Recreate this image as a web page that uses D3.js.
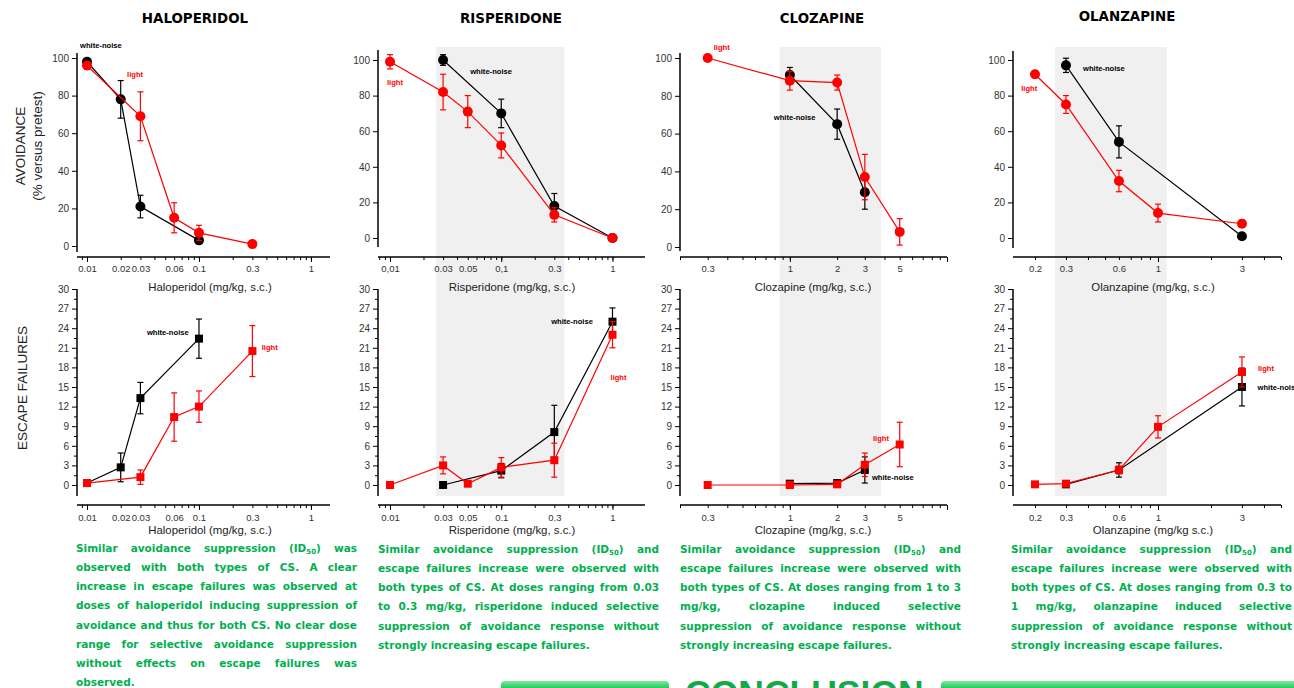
<!DOCTYPE html>
<html>
<head>
<meta charset="utf-8">
<script src="https://cdn.jsdelivr.net/npm/d3@7"></script>
<style>
  body { margin: 0; background: #fff; overflow: hidden; }
  #chart { position: relative; width: 1294px; height: 688px; overflow: hidden; }
  svg { position: absolute; left: 0; top: 0; }
  .note { position: absolute; width: 281px; font: bold 10.5px 'DejaVu Sans', Verdana, sans-serif; color: #00b050; line-height: 19.15px; }
  .note div { text-align: justify; text-align-last: justify; }
  .note div.last { text-align-last: left; }
  .note sub { font-size: 7px; vertical-align: -2px; line-height: 0; }
</style>
</head>
<body>
<div id="chart"></div>
<script>
// Antipsychotics: avoidance & escape failures, white-noise vs light CS

// Haloperidol
const halDose = [0.01, 0.02, 0.03, 0.06, 0.1, 0.3]
const halAvoidNoise = [98, 78, 21, null, 3, null]
const halAvoidNoiseErr = [1.5, 10, 6, null, 1.5, null]
const halAvoidLight = [96, null, 69, 15, 7, 1]
const halAvoidLightErr = [2, null, 13, 8, 4, 1]
const halEscNoise = [0.3, 2.7, 13.3, null, 22.4, null]
const halEscNoiseErr = [0, 2.2, 2.4, null, 3, null]
const halEscLight = [0.3, null, 1.2, 10.4, 12, 20.5]
const halEscLightErr = [0, null, 1.1, 3.7, 2.4, 3.9]
const halTicks = [0.01, 0.02, 0.03, 0.06, 0.1, 0.3, 1]
const halTickLabels = ['0.01', '0.02', '0.03', '0.06', '0.1', '0.3', '1']

// Risperidone
const risDose = [0.01, 0.03, 0.05, 0.1, 0.3, 1]
const risAvoidNoise = [null, 100, null, 70, 18, 0]
const risAvoidNoiseErr = [null, 3, null, 8, 7, 0]
const risAvoidLight = [99, 82, 71, 52, 13, 0]
const risAvoidLightErr = [4, 10, 9, 7, 4, 1]
const risEscNoise = [null, 0, null, 2.2, 8.1, 25]
const risEscNoiseErr = [null, 0, null, 1.1, 4.1, 2.1]
const risEscLight = [0, 3, 0.2, 2.7, 3.8, 23]
const risEscLightErr = [0, 1.3, 0, 1.5, 2.6, 2]
const risTicks = [0.01, 0.03, 0.05, 0.1, 0.3, 1]
const risTickLabelsTop = ['0,01', '0.03', '0.05', '0,1', '0.3', '1']
const risTickLabelsBot = ['0.01', '0.03', '0.05', '0.1', '0.3', '1']

// Clozapine
const cloDose = [0.3, 1, 2, 3, 5]
const cloAvoidNoise = [null, 91, 65, 29, null]
const cloAvoidNoiseErr = [null, 4, 8, 9, null]
const cloAvoidLight = [100, 88, 87, 37, 8]
const cloAvoidLightErr = [0, 5, 4, 12, 7]
const cloEscNoise = [null, 0.2, 0.3, 2.3, null]
const cloEscNoiseErr = [null, 0, 0, 2, null]
const cloEscLight = [0, 0, 0.1, 3.1, 6.2]
const cloEscLightErr = [0, 0, 0, 1.8, 3.4]
const cloTicks = [0.3, 1, 2, 3, 5]
const cloTickLabels = ['0.3', '1', '2', '3', '5']

// Olanzapine
const olaDose = [0.2, 0.3, 0.6, 1, 3]
const olaAvoidNoise = [null, 97, 54, null, 1]
const olaAvoidNoiseErr = [null, 4, 9, null, 0]
const olaAvoidLight = [92, 75, 32, 14, 8]
const olaAvoidLightErr = [2, 5, 6, 5, 2]
const olaEscNoise = [null, 0.1, 2.3, null, 15]
const olaEscNoiseErr = [null, 0, 1.1, null, 2.9]
const olaEscLight = [0.1, 0.2, 2.3, 8.9, 17.3]
const olaEscLightErr = [0, 0, 0.6, 1.7, 2.3]
const olaTicks = [0.2, 0.3, 0.6, 1, 3]
const olaTickLabels = ['0.2', '0.3', '0.6', '1', '3']

const avoidTicks = [0, 20, 40, 60, 80, 100]
const escTicks = [0, 3, 6, 9, 12, 15, 18, 21, 24, 27, 30]
const escMinor = [1.5, 4.5, 7.5, 10.5, 13.5, 16.5, 19.5, 22.5, 25.5, 28.5]

const RED = '#ff0000'
const BLACK = '#000000'

const panels = [
  {
    title: 'HALOPERIDOL', titleX: 195, titleY: 23,
    dose: halDose, x0: 77, x1: 330, domain: [0.00814, 1.48],
    topY: [246, 58], topAxis: [252, 53], shade: null,
    ticks: halTicks, labelsTop: halTickLabels, labelsBot: halTickLabels,
    xTitleTop: 'Haloperidol (mg/kg, s.c.)', xTitleBot: 'Haloperidol (mg/kg, s.c.)', xTitleX: 210,
    avoid: [[halAvoidNoise, halAvoidNoiseErr, BLACK], [halAvoidLight, halAvoidLightErr, RED]],
    esc: [[halEscNoise, halEscNoiseErr, BLACK], [halEscLight, halEscLightErr, RED]],
    notesTop: [['white-noise', BLACK, 0.00866, 106.9], ['light', RED, 0.0228, 91.5]],
    notesBot: [['white-noise', BLACK, 0.0343, 23.4], ['light', RED, 0.363, 21]]
  },
  {
    title: 'RISPERIDONE', titleX: 511, titleY: 23,
    dose: risDose, x0: 378, x1: 645, domain: [0.0078, 1.96],
    topY: [238, 60], topAxis: [247, 50], shade: [0.026, 0.37],
    ticks: risTicks, labelsTop: risTickLabelsTop, labelsBot: risTickLabelsBot,
    xTitleTop: 'Risperidone (mg/kg, s.c.)', xTitleBot: 'Risperidone (mg/kg, s.c.)', xTitleX: 512,
    avoid: [[risAvoidNoise, risAvoidNoiseErr, BLACK], [risAvoidLight, risAvoidLightErr, RED]],
    esc: [[risEscNoise, risEscNoiseErr, BLACK], [risEscLight, risEscLightErr, RED]],
    notesTop: [['white-noise', BLACK, 0.0526, 93.8], ['light', RED, 0.0094, 87.6]],
    notesBot: [['white-noise', BLACK, 0.281, 25], ['light', RED, 0.96, 16.5]]
  },
  {
    title: 'CLOZAPINE', titleX: 822, titleY: 23,
    dose: cloDose, x0: 680, x1: 947, domain: [0.2, 10],
    topY: [247, 58], topAxis: [251, 53], shade: [0.86, 3.8],
    ticks: cloTicks, labelsTop: cloTickLabels, labelsBot: cloTickLabels,
    xTitleTop: 'Clozapine (mg/kg, s.c.)', xTitleBot: 'Clozapine (mg/kg, s.c.)', xTitleX: 813,
    avoid: [[cloAvoidNoise, cloAvoidNoiseErr, BLACK], [cloAvoidLight, cloAvoidLightErr, RED]],
    esc: [[cloEscNoise, cloEscNoiseErr, BLACK], [cloEscLight, cloEscLightErr, RED]],
    notesTop: [['light', RED, 0.328, 105.8], ['white-noise', BLACK, 0.79, 68.8]],
    notesBot: [['light', RED, 3.38, 7.2], ['white-noise', BLACK, 3.33, 1.2]]
  },
  {
    title: 'OLANZAPINE', titleX: 1127, titleY: 21,
    dose: olaDose, x0: 1013, x1: 1281, domain: [0.15, 5],
    topY: [238, 60], topAxis: [248, 51], shade: [0.26, 1.12],
    ticks: olaTicks, labelsTop: olaTickLabels, labelsBot: olaTickLabels,
    xTitleTop: 'Olanzapine (mg/kg, s.c.)', xTitleBot: 'Olanzapine (mg/kg s.c.)', xTitleX: 1153,
    avoid: [[olaAvoidNoise, olaAvoidNoiseErr, BLACK], [olaAvoidLight, olaAvoidLightErr, RED]],
    esc: [[olaEscNoise, olaEscNoiseErr, BLACK], [olaEscLight, olaEscLightErr, RED]],
    notesTop: [['white-noise', BLACK, 0.375, 95.5], ['light', RED, 0.167, 84.3]],
    notesBot: [['light', RED, 3.7, 17.8], ['white-noise', BLACK, 3.68, 14.9]]
  }
]

const notes = [
  { x: 76, y: 539, lines: [
    'Similar avoidance suppression (ID<sub>50</sub>) was',
    'observed with both types of CS. A clear',
    'increase in escape failures was observed at',
    'doses of haloperidol inducing suppression of',
    'avoidance and thus for both CS. No clear dose',
    'range for selective avoidance suppression',
    'without effects on escape failures was',
    'observed.'] },
  { x: 378, y: 540, lines: [
    'Similar avoidance suppression (ID<sub>50</sub>) and',
    'escape failures increase were observed with',
    'both types of CS. At doses ranging from 0.03',
    'to 0.3 mg/kg, risperidone induced selective',
    'suppression of avoidance response without',
    'strongly increasing escape failures.'] },
  { x: 680, y: 540, lines: [
    'Similar avoidance suppression (ID<sub>50</sub>) and',
    'escape failures increase were observed with',
    'both types of CS. At doses ranging from 1 to 3',
    'mg/kg, clozapine induced selective',
    'suppression of avoidance response without',
    'strongly increasing escape failures.'] },
  { x: 1011, y: 540, lines: [
    'Similar avoidance suppression (ID<sub>50</sub>) and',
    'escape failures increase were observed with',
    'both types of CS. At doses ranging from 0.3 to',
    '1 mg/kg, olanzapine induced selective',
    'suppression of avoidance response without',
    'strongly increasing escape failures.'] }
]

const svg = d3.select('#chart')
  .append('svg')
  .attr('width', 1294)
  .attr('height', 688)

const defs = svg.append('defs')
const grad = defs.append('linearGradient')
  .attr('id', 'barGrad')
  .attr('x1', 0).attr('y1', 0).attr('x2', 0).attr('y2', 1)
grad.append('stop').attr('offset', '0%').attr('stop-color', '#7fe8a0')
grad.append('stop').attr('offset', '30%').attr('stop-color', '#2fcf62')
grad.append('stop').attr('offset', '100%').attr('stop-color', '#10a844')

const tickFont = 'Liberation Sans, Arial, sans-serif'

// log minor ticks within a domain
const logTicks = (dom) => {
  const out = []
  for (let e = Math.floor(Math.log10(dom[0])); e <= Math.ceil(Math.log10(dom[1])); e++) {
    for (let k = 1; k <= 9; k++) {
      const v = k * Math.pow(10, e)
      if (v >= dom[0] * 0.999 && v <= dom[1] * 1.001) out.push(v)
    }
  }
  return out
}

const styleAxis = (g, size) => {
  g.select('.domain').remove()
  g.selectAll('line').attr('stroke', '#000').attr('stroke-width', 1)
  g.selectAll('text')
    .attr('fill', '#333')
    .style('font-family', tickFont)
    .style('font-size', size + 'px')
}

const drawSeries = (g, p, xs, ys, series, shape) => {
  const [vals, errs, color] = series
  const pts = p.dose.map((d, i) => ({ d, v: vals[i], e: errs[i] })).filter((o) => o.v != null)
  const line = d3.line().x((o) => xs(o.d)).y((o) => ys(o.v))
  g.append('path')
    .datum(pts)
    .attr('d', line)
    .attr('fill', 'none')
    .attr('stroke', color)
    .attr('stroke-width', 1.2)
  const eb = g.append('g').attr('stroke', color).attr('stroke-width', 1.2)
  pts.filter((o) => o.e > 0).forEach((o) => {
    const x = xs(o.d)
    eb.append('line').attr('x1', x).attr('x2', x).attr('y1', ys(o.v - o.e)).attr('y2', ys(o.v + o.e))
    eb.append('line').attr('x1', x - 3).attr('x2', x + 3).attr('y1', ys(o.v - o.e)).attr('y2', ys(o.v - o.e))
    eb.append('line').attr('x1', x - 3).attr('x2', x + 3).attr('y1', ys(o.v + o.e)).attr('y2', ys(o.v + o.e))
  })
  if (shape === 'circle') {
    g.append('g').selectAll('circle')
      .data(pts)
      .enter().append('circle')
      .attr('cx', (o) => xs(o.d))
      .attr('cy', (o) => ys(o.v))
      .attr('r', 5)
      .attr('fill', color)
  } else {
    g.append('g').selectAll('rect')
      .data(pts)
      .enter().append('rect')
      .attr('x', (o) => xs(o.d) - 4)
      .attr('y', (o) => ys(o.v) - 4)
      .attr('width', 8)
      .attr('height', 8)
      .attr('fill', color)
  }
}

const drawXAxis = (g, p, xs, yPos, labels, pad) => {
  const minor = logTicks(p.domain)
  const decades = minor.filter((v) => Math.abs(Math.log10(v) - Math.round(Math.log10(v))) < 1e-9)
  g.append('g')
    .attr('transform', `translate(0,${yPos})`)
    .call(d3.axisBottom(xs).tickValues(minor).tickSize(3).tickFormat(''))
    .call((a) => styleAxis(a, 9.5))
  g.append('g')
    .attr('transform', `translate(0,${yPos})`)
    .call(d3.axisBottom(xs).tickValues(decades).tickSize(5).tickFormat(''))
    .call((a) => styleAxis(a, 9.5))
  g.append('g')
    .attr('transform', `translate(0,${yPos})`)
    .call(d3.axisBottom(xs).tickValues(p.ticks).tickSize(0).tickPadding(pad)
      .tickFormat((d, i) => labels[i]))
    .call((a) => styleAxis(a, 9.5))
  g.append('line')
    .attr('x1', p.x0).attr('x2', p.x1)
    .attr('y1', yPos).attr('y2', yPos)
    .attr('stroke', '#000').attr('stroke-width', 1.5)
}

const drawNotes = (g, xs, ys, list) => {
  list.forEach(([t, c, d, v]) => {
    g.append('text')
      .text(t)
      .attr('x', xs(d))
      .attr('y', ys(v))
      .attr('dy', '0.35em')
      .attr('fill', c)
      .style('font-family', tickFont)
      .style('font-weight', 'bold')
      .style('font-size', '7.6px')
  })
}

panels.forEach((p) => {
  const g = svg.append('g')
  const xs = d3.scaleLog().domain(p.domain).range([p.x0, p.x1])

  // shaded selective-dose band
  if (p.shade) {
    g.append('rect')
      .attr('x', xs(p.shade[0]))
      .attr('width', xs(p.shade[1]) - xs(p.shade[0]))
      .attr('y', 47)
      .attr('height', 449)
      .attr('fill', '#f0f0f0')
  }

  // Title
  g.append('text')
    .text(p.title)
    .attr('x', p.titleX)
    .attr('y', p.titleY)
    .attr('text-anchor', 'middle')
    .style('font-family', 'DejaVu Sans, Verdana, sans-serif')
    .style('font-weight', 'bold')
    .style('font-size', '13.4px')

  // Avoidance (top)
  const yTop = d3.scaleLinear().domain([0, 100]).range(p.topY)
  g.append('g')
    .attr('transform', `translate(${p.x0},0)`)
    .call(d3.axisLeft(yTop).tickValues(avoidTicks).tickSize(5).tickPadding(3))
    .call((a) => styleAxis(a, 10))
  g.append('line')
    .attr('x1', p.x0).attr('x2', p.x0)
    .attr('y1', p.topAxis[1]).attr('y2', p.topAxis[0])
    .attr('stroke', '#000').attr('stroke-width', 1.5)
  drawXAxis(g, p, xs, 257, p.labelsTop, 8)
  g.append('text')
    .text(p.xTitleTop)
    .attr('x', p.xTitleX)
    .attr('y', 291)
    .attr('text-anchor', 'middle')
    .attr('fill', '#222')
    .style('font-family', tickFont)
    .style('font-size', '11.4px')
  p.avoid.forEach((s) => drawSeries(g, p, xs, yTop, s, 'circle'))
  drawNotes(g, xs, yTop, p.notesTop)

  // Escape failures (bottom)
  const yBot = d3.scaleLinear().domain([0, 30]).range([485, 289])
  g.append('g')
    .attr('transform', `translate(${p.x0},0)`)
    .call(d3.axisLeft(yBot).tickValues(escMinor).tickSize(3).tickFormat(''))
    .call((a) => styleAxis(a, 10))
  g.append('g')
    .attr('transform', `translate(${p.x0},0)`)
    .call(d3.axisLeft(yBot).tickValues(escTicks).tickSize(5).tickPadding(3))
    .call((a) => styleAxis(a, 10))
  g.append('line')
    .attr('x1', p.x0).attr('x2', p.x0)
    .attr('y1', 289).attr('y2', 496)
    .attr('stroke', '#000').attr('stroke-width', 1.5)
  drawXAxis(g, p, xs, 505, p.labelsBot, 9)
  g.append('text')
    .text(p.xTitleBot)
    .attr('x', p.xTitleX)
    .attr('y', 534)
    .attr('text-anchor', 'middle')
    .attr('fill', '#222')
    .style('font-family', tickFont)
    .style('font-size', '11.4px')
  p.esc.forEach((s) => drawSeries(g, p, xs, yBot, s, 'square'))
  drawNotes(g, xs, yBot, p.notesBot)
})

// Y axis titles
const yTitle = (lines, x, y) => {
  const t = svg.append('text')
    .attr('transform', `translate(${x},${y}) rotate(-90)`)
    .attr('text-anchor', 'middle')
    .attr('fill', '#222')
    .style('font-family', tickFont)
    .style('font-size', '13.5px')
  lines.forEach((l, i) => {
    t.append('tspan').text(l).attr('x', 0).attr('dy', i ? '1.25em' : 0)
  })
}
yTitle(['AVOIDANCE', '(% versus pretest)'], 25, 146)
yTitle(['ESCAPE FAILURES'], 27, 388)

// Conclusion banner
svg.append('rect')
  .attr('x', 501).attr('y', 681).attr('width', 168).attr('height', 20)
  .attr('rx', 4).attr('fill', 'url(#barGrad)')
svg.append('rect')
  .attr('x', 941).attr('y', 681).attr('width', 370).attr('height', 20)
  .attr('rx', 4).attr('fill', 'url(#barGrad)')
svg.append('text')
  .text('CONCLUSION')
  .attr('x', 685)
  .attr('y', 705)
  .attr('fill', '#14a847')
  .style('font-family', tickFont)
  .style('font-weight', 'bold')
  .style('font-size', '35.5px')

// Text blocks
notes.forEach((n) => {
  const box = d3.select('#chart').append('div')
    .attr('class', 'note')
    .style('left', n.x + 'px')
    .style('top', n.y + 'px')
  n.lines.forEach((l, i) => {
    box.append('div')
      .attr('class', i === n.lines.length - 1 ? 'last' : null)
      .html(l)
  })
})
</script>
</body>
</html>
